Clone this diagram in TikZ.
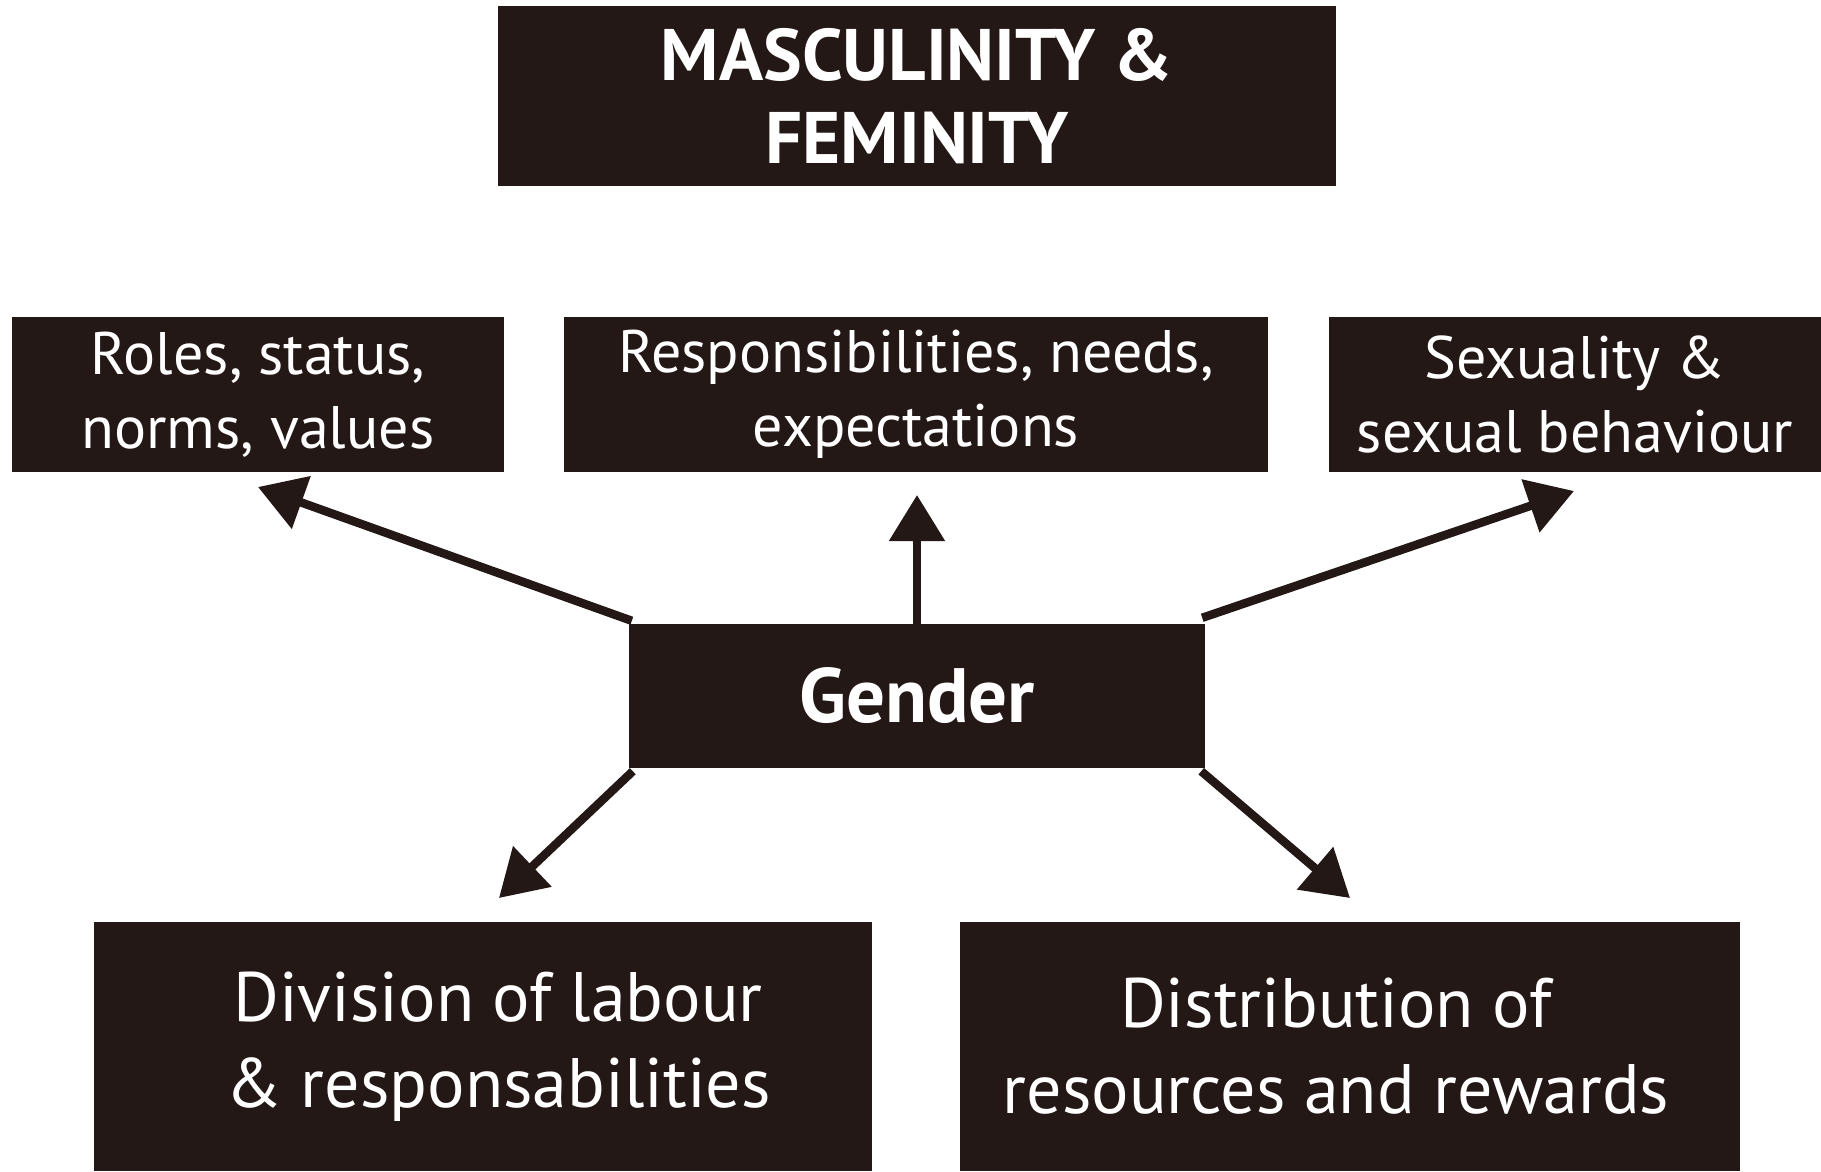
\documentclass[tikz,border=0pt]{standalone}
\usepackage{fontspec}
\setmainfont{PT Sans}
\usetikzlibrary{arrows.meta}
\definecolor{boxc}{HTML}{231815}
\begin{document}
\begin{tikzpicture}[x=1pt,y=-1pt,
  box/.style={fill=boxc,draw=none,text=white,align=center,inner sep=0pt,anchor=center},
  lbl/.style={text=white,align=center,inner sep=0pt,anchor=center},
  arr/.style={draw=boxc,line width=8.5pt,-{Triangle[length=46pt,width=54pt]}}]
\useasboundingbox (0,0) rectangle (1821,1171);
\fill[white] (0,0) rectangle (1821,1171);
\node[box,minimum width=838pt,minimum height=180pt,font=\fontsize{73}{83}\selectfont\bfseries] (top) at (917,96) {MASCULINITY \&\\FEMINITY};
\node[box,minimum width=492pt,minimum height=155pt,font=\fontsize{60}{74}\selectfont] (roles) at (258,394.5) {Roles, status,\\norms, values};
\node[box,minimum width=704pt,minimum height=155pt,font=\fontsize{60}{74}\selectfont] (resp) at (916,394.5) {Responsibilities, needs,\\expectations};
\node[box,minimum width=492pt,minimum height=155pt,font=\fontsize{60}{74}\selectfont] (sex) at (1575,394.5) {Sexuality \&\\sexual behaviour};
\node[box,minimum width=576pt,minimum height=144pt,font=\fontsize{77}{85}\selectfont\bfseries] (gender) at (917,696) {Gender};
\node[box,minimum width=778pt,minimum height=249pt] (div) at (483,1046.5) {};
\node[lbl,font=\fontsize{70}{86}\selectfont] (divtext) at (498,1046.5) {Division of labour\\\& responsabilities};
\node[box,minimum width=780pt,minimum height=249pt] (dist) at (1350,1046.5) {};
\node[lbl,font=\fontsize{70}{86}\selectfont] (disttext) at (1336,1046.5) {Distribution of\\resources and rewards};
\coordinate (t1) at (258,487);
\coordinate (t2) at (917,495);
\coordinate (t3) at (1574,491);
\coordinate (t4) at (499,898);
\coordinate (t5) at (1350,898);
\draw[arr] ([shift={(3pt,3pt)}]gender.north west) -- (t1);
\draw[arr] (gender.north) -- (t2);
\draw[arr] ([shift={(-3pt,6pt)}]gender.north east) -- (t3);
\draw[arr] ([shift={(4pt,-3pt)}]gender.south west) -- (t4);
\draw[arr] ([shift={(-4pt,-3pt)}]gender.south east) -- (t5);
\end{tikzpicture}
\end{document}
